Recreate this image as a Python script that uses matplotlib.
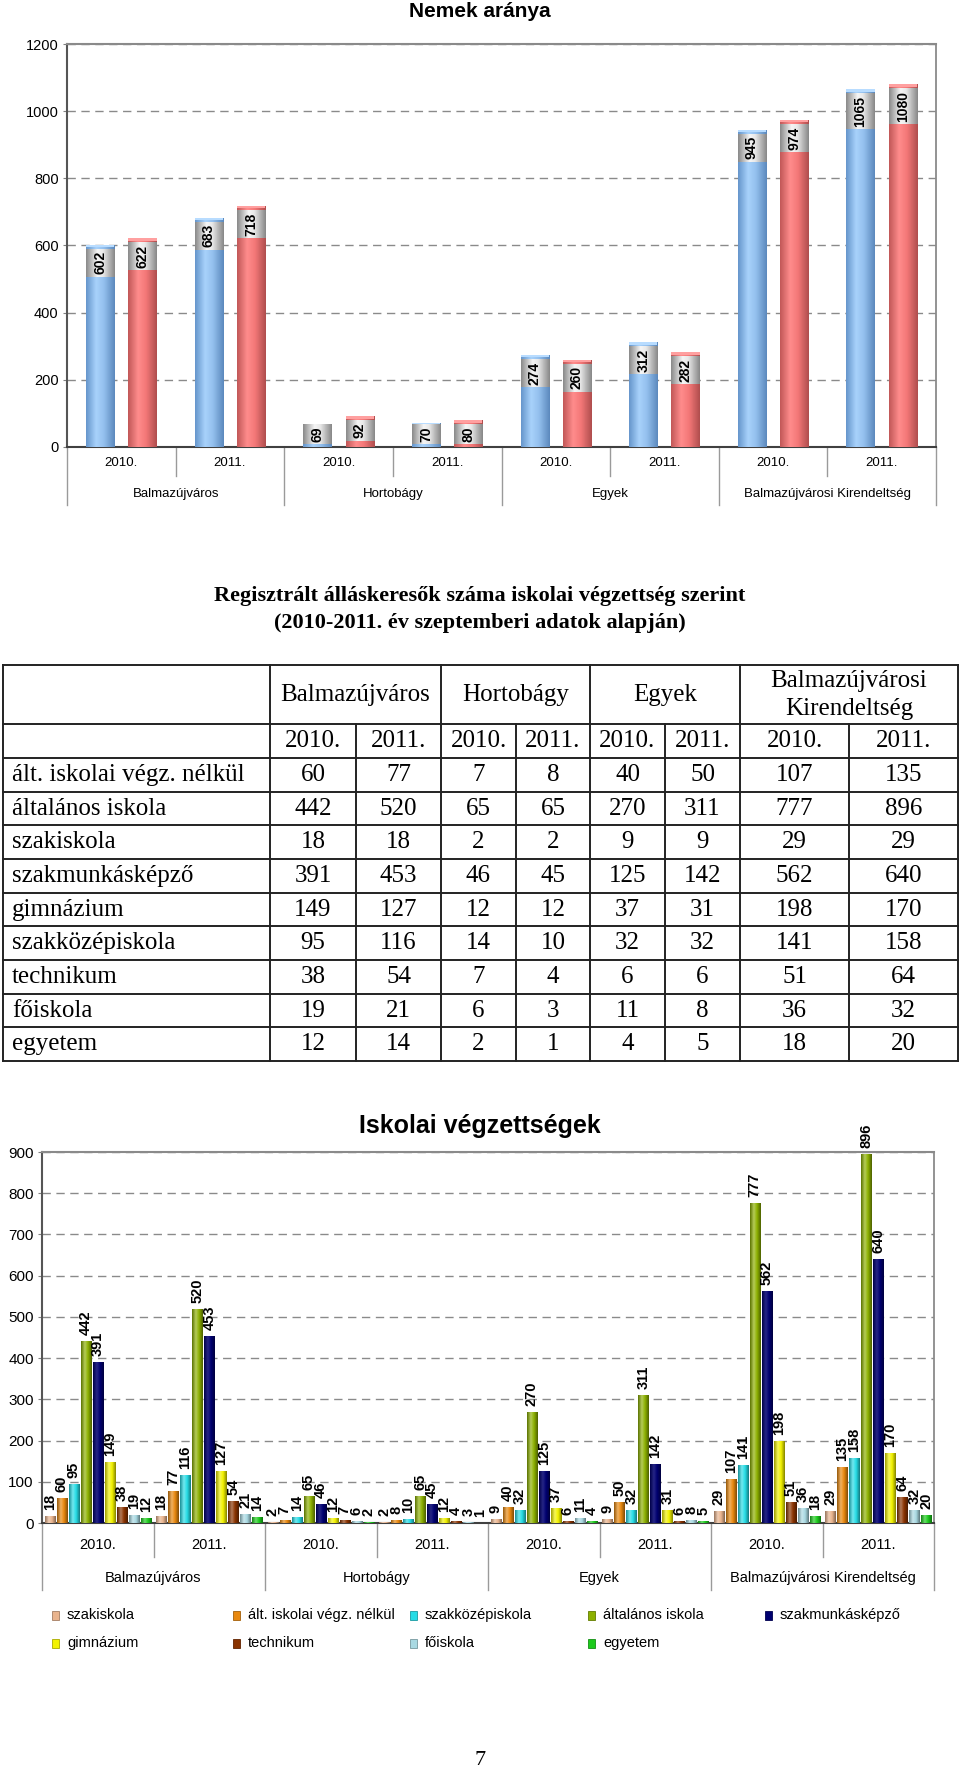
import numpy as np
import matplotlib
matplotlib.use("Agg")
import matplotlib.pyplot as plt
import matplotlib.transforms as mtransforms
from matplotlib.colors import LinearSegmentedColormap, to_rgb
from matplotlib.patches import Rectangle

# ---------------- data ----------------
groups = ["Balmazújváros", "Hortobágy", "Egyek", "Balmazújvárosi Kirendeltség"]
years = ["2010.", "2011."]

ferfiak = [602, 683, 69, 70, 274, 312, 945, 1065]
nok = [622, 718, 92, 80, 260, 282, 974, 1080]

alt_nelkul = [60, 77, 7, 8, 40, 50, 107, 135]
altalanos = [442, 520, 65, 65, 270, 311, 777, 896]
szakiskola = [18, 18, 2, 2, 9, 9, 29, 29]
szakmunkas = [391, 453, 46, 45, 125, 142, 562, 640]
gimnazium = [149, 127, 12, 12, 37, 31, 198, 170]
szakkozep = [95, 116, 14, 10, 32, 32, 141, 158]
technikum = [38, 54, 7, 4, 6, 6, 51, 64]
foiskola = [19, 21, 6, 3, 11, 8, 36, 32]
egyetem = [12, 14, 2, 1, 4, 5, 18, 20]

table_rows = ["ált. iskolai végz. nélkül", "általános iskola", "szakiskola",
              "szakmunkásképző", "gimnázium", "szakközépiskola", "technikum",
              "főiskola", "egyetem"]
table_values = [alt_nelkul, altalanos, szakiskola, szakmunkas, gimnazium,
                szakkozep, technikum, foiskola, egyetem]
data = dict(zip(table_rows, table_values))

chart_order = ["szakiskola", "ált. iskolai végz. nélkül", "szakközépiskola",
               "általános iskola", "szakmunkásképző", "gimnázium", "technikum",
               "főiskola", "egyetem"]
chart_colors = {
    "szakiskola": "#e9b48e",
    "ált. iskolai végz. nélkül": "#e8880e",
    "szakközépiskola": "#26dce6",
    "általános iskola": "#8cb000",
    "szakmunkásképző": "#000070",
    "gimnázium": "#f2f200",
    "technikum": "#8a3300",
    "főiskola": "#a9d9e2",
    "egyetem": "#1ccb1c",
}

SANS = ["Liberation Sans", "DejaVu Sans"]
SERIF = ["Liberation Serif", "DejaVu Serif"]
plt.rcParams["font.family"] = SANS

W, H = 960, 1769
fig = plt.figure(figsize=(W / 100, H / 100), dpi=100)
fig.patch.set_facecolor("white")


def fr(x0, y0, x1, y1):
    return [x0 / W, 1 - y1 / H, (x1 - x0) / W, (y1 - y0) / H]


def mix(c, other, t):
    c = np.array(to_rgb(c)); o = np.array(to_rgb(other))
    return tuple(c * (1 - t) + o * t)


def cyl(ax, patch, stops, z):
    x0, y0 = patch.get_x(), patch.get_y()
    w, h = patch.get_width(), patch.get_height()
    if h <= 0:
        return
    cmap = LinearSegmentedColormap.from_list("c", stops)
    im = ax.imshow(np.linspace(0, 1, 64)[None, :], extent=[x0, x0 + w, y0, y0 + h],
                   aspect="auto", cmap=cmap, interpolation="bilinear",
                   zorder=z, origin="lower")
    im.set_clip_path(patch)


def generic_stops(c, light=0.35):
    return [(0, mix(c, "black", 0.35)), (0.35, mix(c, "white", light)),
            (0.65, to_rgb(c)), (1, mix(c, "black", 0.45))]


# overlay axes in pixel coordinates
axo = fig.add_axes([0, 0, 1, 1])
axo.set_xlim(0, W)
axo.set_ylim(H, 0)
axo.axis("off")

# ================= Chart 1: Nemek aránya =================
ax1 = fig.add_axes(fr(67, 44, 936, 447))
x = np.arange(len(ferfiak))
blue_stops = [(0, "#6696cc"), (0.35, "#a8d2fb"), (0.62, "#94c0ee"), (1, "#5c89bd")]
red_stops = [(0, "#c25858"), (0.35, "#ff8c8c"), (0.62, "#f47878"), (1, "#b04e4e")]
grey_stops = [(0, "#8a8a8a"), (0.4, "#f6f6f6"), (0.6, "#e8e8e8"), (1, "#888888")]
bw = 0.26
off = 0.195
b1 = ax1.bar(x - off, ferfiak, width=bw, color="#8ab4e6", zorder=3)
b2 = ax1.bar(x + off, nok, width=bw, color="#f07a7a", zorder=3)
ax1.set_xlim(-0.5, len(ferfiak) - 0.5)
ax1.set_ylim(0, 1200)
upp1 = 1200 / 403.0
for bars, stops, capc in ((b1, blue_stops, "#b8dcff"), (b2, red_stops, "#ffa0a0")):
    for p in bars:
        cyl(ax1, p, stops, 3.1)
        v = p.get_height()
        xc = p.get_x() + p.get_width() / 2
        cap = Rectangle((p.get_x(), v - 2.5 * upp1), p.get_width(), 2.5 * upp1,
                        facecolor=capc, edgecolor="none", zorder=3.2)
        ax1.add_patch(cap)
        L = 7.7 * len(str(int(v))) + 5
        center = v - (4 + L / 2) * upp1
        center = max(center, (L / 2 + 3) * upp1)
        box = Rectangle((p.get_x(), center - L / 2 * upp1), p.get_width(), L * upp1,
                        facecolor="#dddddd", edgecolor="none", zorder=4)
        ax1.add_patch(box)
        cyl(ax1, box, grey_stops, 4.1)
        ax1.text(xc, center, str(int(v)), rotation=90, ha="center", va="center",
                 fontsize=10, fontweight="bold", zorder=5)

ax1.set_yticks(np.arange(0, 1201, 200))
ax1.tick_params(axis="y", labelsize=10.5, length=3, color="#808080", pad=3)
ax1.set_xticks(x)
ax1.set_xticklabels(years * len(groups), fontsize=9.5)
ax1.tick_params(axis="x", length=0, pad=7.5)
ax1.yaxis.grid(True, linestyle=(0, (6, 4)), color="#8a8a8a", lw=1)
ax1.set_axisbelow(True)
for s, c, lw in (("left", "#555555", 1.5), ("bottom", "#404040", 1.5),
                 ("top", "#8a8a8a", 1.5), ("right", "#8a8a8a", 1.3)):
    ax1.spines[s].set_color(c)
    ax1.spines[s].set_linewidth(lw)
tr1 = mtransforms.blended_transform_factory(ax1.transData, ax1.transAxes)
for gi, g in enumerate(groups):
    ax1.text(2 * gi + 0.5, -0.117, g, transform=tr1, ha="center", va="center",
             fontsize=9.5)
for k, b in enumerate(np.arange(-0.5, len(ferfiak), 1.0)):
    ln = 0.144 if k % 2 == 0 else 0.072
    ax1.plot([b, b], [0, -ln], transform=tr1, color="#9a9a9a", lw=1, clip_on=False)

axo.text(480, 17, "Nemek aránya", ha="center", va="baseline", fontsize=15,
         fontweight="bold")
for yy, lab, c in ((72, "férfiak", "#8ab4e6"), (93, "nők", "#f07a7a")):
    axo.add_patch(Rectangle((101, yy - 4.5), 8, 9, facecolor=c,
                            edgecolor=mix(c, "black", 0.3), lw=0.6))
    axo.text(115, yy, lab, ha="left", va="center", fontsize=10.5, fontweight="bold")

# ================= Table =================
axo.text(480, 601, "Regisztrált álláskeresők száma iskolai végzettség szerint",
         ha="center", va="baseline", fontsize=16, fontweight="bold", family=SERIF)
axo.text(480, 628, "(2010-2011. év szeptemberi adatok alapján)",
         ha="center", va="baseline", fontsize=16, fontweight="bold", family=SERIF)

col_x = [3, 270, 356, 441, 516, 590, 665, 740, 849, 958]
top_y, head_y, data_y, bot_y = 665, 724, 758, 1061
row_h = (bot_y - data_y) / len(table_rows)
row_lines = [top_y, head_y] + [data_y + k * row_h for k in range(len(table_rows) + 1)]
lc = "#222222"
for yy in row_lines:
    axo.plot([col_x[0], col_x[-1]], [yy, yy], color=lc, lw=1.4, solid_capstyle="projecting")
for k, xx in enumerate(col_x):
    y0 = top_y if k in (0, 1, 3, 5, 7, 9) else head_y
    axo.plot([xx, xx], [y0, bot_y], color=lc, lw=1.4, solid_capstyle="projecting")

TFS = 18
for gi, g in enumerate(groups):
    xc = (col_x[1 + 2 * gi] + col_x[3 + 2 * gi]) / 2
    if gi == 3:
        parts = g.split(" ")
        axo.text(xc, 681, parts[0], ha="center", va="center",
                 fontsize=TFS, family=SERIF)
        axo.text(xc, 709, parts[1], ha="center", va="center", fontsize=TFS, family=SERIF)
    else:
        axo.text(xc, (top_y + head_y) / 2, g, ha="center", va="center",
                 fontsize=TFS, family=SERIF)
for j in range(8):
    xc = (col_x[1 + j] + col_x[2 + j]) / 2
    axo.text(xc, (head_y + data_y) / 2, years[j % 2], ha="center", va="center",
             fontsize=TFS, family=SERIF)
for r, (name, vals) in enumerate(zip(table_rows, table_values)):
    yc = data_y + (r + 0.5) * row_h
    axo.text(12, yc, name, ha="left", va="center", fontsize=TFS, family=SERIF)
    for j, v in enumerate(vals):
        xc = (col_x[1 + j] + col_x[2 + j]) / 2
        axo.text(xc, yc, str(v), ha="center", va="center", fontsize=TFS, family=SERIF)

# ================= Chart 3: Iskolai végzettségek =================
ax3 = fig.add_axes(fr(42, 1152, 934, 1523))
n = len(chart_order)
step = 0.1076
w3 = 0.092
ax3.set_xlim(-0.5, 7.5)
ax3.set_ylim(0, 900)
upp3 = 900 / 371.0
for i, name in enumerate(chart_order):
    vals = data[name]
    c = chart_colors[name]
    bars = ax3.bar(x + (i - (n - 1) / 2) * step, vals, width=w3, color=c, zorder=3)
    st = generic_stops(c, 0.15 if name == "szakmunkásképző" else 0.35)
    for p in bars:
        cyl(ax3, p, st, 3.1)
        v = p.get_height()
        ax3.text(p.get_x() + p.get_width() / 2, v + 6 * upp3, str(int(v)), rotation=90,
                 ha="center", va="bottom", fontsize=10.5, fontweight="bold", zorder=5)

ax3.set_yticks(np.arange(0, 901, 100))
ax3.tick_params(axis="y", labelsize=11, length=3, color="#808080", pad=3)
ax3.set_xticks(x)
ax3.set_xticklabels(years * len(groups), fontsize=10.5)
ax3.tick_params(axis="x", length=0, pad=10.5)
ax3.yaxis.grid(True, linestyle=(0, (6, 4)), color="#8a8a8a", lw=1)
ax3.set_axisbelow(True)
for s, c, lw in (("left", "#555555", 1.5), ("bottom", "#404040", 1.5),
                 ("top", "#8a8a8a", 1.5), ("right", "#8a8a8a", 1.3)):
    ax3.spines[s].set_color(c)
    ax3.spines[s].set_linewidth(lw)
tr3 = mtransforms.blended_transform_factory(ax3.transData, ax3.transAxes)
for gi, g in enumerate(groups):
    ax3.text(2 * gi + 0.5, -0.148, g, transform=tr3, ha="center", va="center",
             fontsize=10.5)
for k, b in enumerate(np.arange(-0.5, 8, 1.0)):
    ln = 0.18 if k % 2 == 0 else 0.092
    ax3.plot([b, b], [0, -ln], transform=tr3, color="#9a9a9a", lw=1, clip_on=False)

axo.text(480, 1133, "Iskolai végzettségek", ha="center", va="baseline", fontsize=18,
         fontweight="bold")

leg_cols = [52, 233, 410, 588, 765]
leg_rows = [1615, 1643]
for i, name in enumerate(chart_order):
    r, cidx = divmod(i, 5)
    xx, yy = leg_cols[cidx], leg_rows[r]
    c = chart_colors[name]
    axo.add_patch(Rectangle((xx, yy - 4.5), 7, 9, facecolor=c,
                            edgecolor=mix(c, "black", 0.3), lw=0.6))
    axo.text(xx + 15, yy, name, ha="left", va="center", fontsize=10.5)

axo.text(480, 1760, "7", ha="center", va="center", fontsize=16, family=SERIF)

fig.savefig("out.png", dpi=100, facecolor="white")
